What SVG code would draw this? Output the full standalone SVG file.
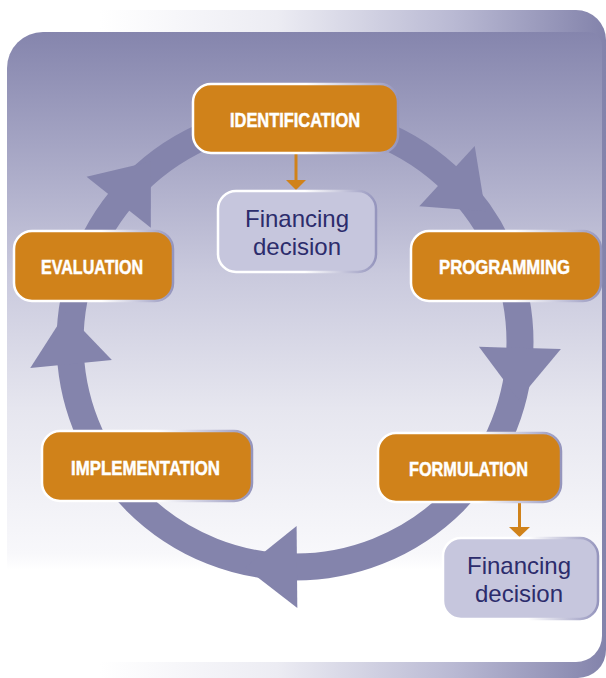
<svg xmlns="http://www.w3.org/2000/svg" width="606" height="678" viewBox="0 0 606 678">
  <defs>
    <linearGradient id="backGrad" gradientUnits="userSpaceOnUse" x1="100" y1="0" x2="606" y2="0">
      <stop offset="0" stop-color="#ffffff"/>
      <stop offset="0.35" stop-color="#ececf3"/>
      <stop offset="0.7" stop-color="#b9b9d3"/>
      <stop offset="1" stop-color="#8383ab"/>
    </linearGradient>
    <linearGradient id="frontGrad" gradientUnits="userSpaceOnUse" x1="0" y1="32" x2="0" y2="570">
      <stop offset="0" stop-color="#8585ad"/>
      <stop offset="0.28" stop-color="#afafcb"/>
      <stop offset="0.45" stop-color="#c9c9dd"/>
      <stop offset="0.7" stop-color="#e6e6ef"/>
      <stop offset="0.97" stop-color="#f8f8fb"/>
      <stop offset="1" stop-color="#ffffff"/>
    </linearGradient>
    <linearGradient id="edgeGrad" x1="0" y1="0" x2="1" y2="0">
      <stop offset="0" stop-color="#ffffff"/>
      <stop offset="0.55" stop-color="#ffffff"/>
      <stop offset="1" stop-color="#9595bd"/>
    </linearGradient>
    <style>
      .ring { fill: none; stroke: #8484ac; stroke-width: 27; }
      .head { fill: #8484ac; }
      .step { fill: #d0821a; stroke: url(#edgeGrad); stroke-width: 2.5; }
      .fin { fill: #c6c6dd; stroke: url(#edgeGrad); stroke-width: 2.5; }
      .lbl { font-family: "Liberation Sans Narrow", "Liberation Sans", Arial, sans-serif; font-weight: bold; font-size: 21px; fill: #ffffff; stroke: #ffffff; stroke-width: 0.5; text-anchor: middle; }
      .fint { font-family: "Liberation Sans", Arial, Helvetica, sans-serif; font-size: 24px; fill: #2c2c6c; text-anchor: middle; }
      .conn { stroke: #d0821a; stroke-width: 3; fill: none; }
      .connhead { fill: #d0821a; }
    </style>
  </defs>

  <!-- background slab -->
  <g id="background">
    <path d="M90,10 H576 A30,30 0 0 1 606,40 V650 A28,28 0 0 1 578,678 H90 Z" fill="url(#backGrad)"/>
    <path d="M43,32 H588 A14,14 0 0 1 602,46 V636 A26,26 0 0 1 576,662 H7 V68 A36,36 0 0 1 43,32 Z" fill="url(#frontGrad)"/>
  </g>

  <!-- cycle ring with arrowheads -->
  <g id="cycle">
    <circle class="ring" cx="295" cy="342" r="225"/>
    <polygon class="head" points="479,342 561,342 520,394" transform="rotate(-47.5 295 342)"/>
    <polygon class="head" points="479,342 561,342 520,394" transform="rotate(1.5 295 342)"/>
    <polygon class="head" points="479,342 561,342 520,394" transform="rotate(89.5 295 342)"/>
    <polygon class="head" points="479,342 561,342 520,394" transform="rotate(174.4 295 342)"/>
    <polygon class="head" points="479,342 561,342 520,394" transform="rotate(218.4 295 342)"/>
  </g>

  <!-- connectors -->
  <g id="connectors">
    <line class="conn" x1="296" y1="153" x2="296" y2="182"/>
    <polygon class="connhead" points="286,180 306,180 296,190"/>
    <line class="conn" x1="519.5" y1="502" x2="519.5" y2="529"/>
    <polygon class="connhead" points="509,527 530,527 519.5,537"/>
  </g>

  <g id="identification">
    <rect class="step" x="193" y="84" width="205" height="69" rx="18"/>
    <text class="lbl" x="295" y="127" textLength="130" lengthAdjust="spacingAndGlyphs">IDENTIFICATION</text>
  </g>

  <g id="financing-top">
    <rect class="fin" x="218" y="191" width="158" height="81" rx="18"/>
    <text class="fint" x="297" y="227">Financing</text>
    <text class="fint" x="297" y="255">decision</text>
  </g>

  <g id="programming">
    <rect class="step" x="411" y="231" width="190" height="70" rx="18"/>
    <text class="lbl" x="504.5" y="274" textLength="131" lengthAdjust="spacingAndGlyphs">PROGRAMMING</text>
  </g>

  <g id="evaluation">
    <rect class="step" x="14" y="231" width="159" height="70" rx="18"/>
    <text class="lbl" x="92" y="274" textLength="102" lengthAdjust="spacingAndGlyphs">EVALUATION</text>
  </g>

  <g id="formulation">
    <rect class="step" x="378" y="433" width="183" height="69" rx="18"/>
    <text class="lbl" x="468.5" y="476" textLength="119" lengthAdjust="spacingAndGlyphs">FORMULATION</text>
  </g>

  <g id="implementation">
    <rect class="step" x="42" y="431" width="210" height="70" rx="18"/>
    <text class="lbl" x="145.5" y="475" textLength="149" lengthAdjust="spacingAndGlyphs">IMPLEMENTATION</text>
  </g>

  <g id="financing-bottom">
    <rect class="fin" x="443" y="538" width="155" height="81" rx="18"/>
    <text class="fint" x="519" y="574">Financing</text>
    <text class="fint" x="519" y="602">decision</text>
  </g>
</svg>
